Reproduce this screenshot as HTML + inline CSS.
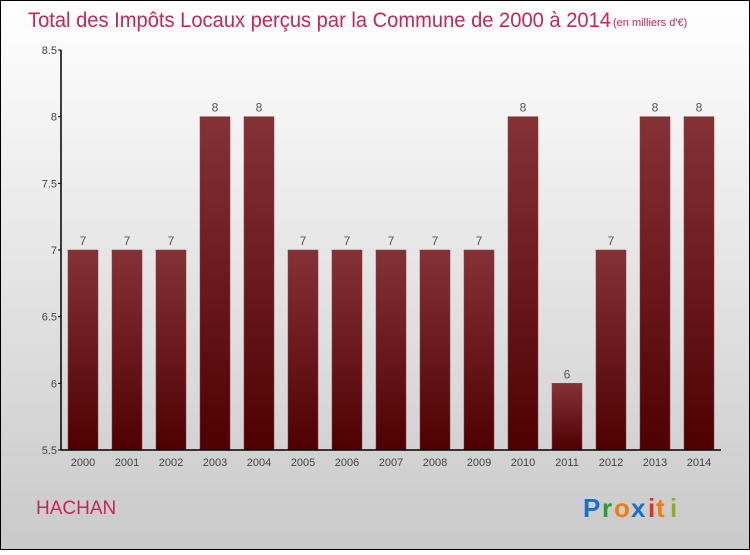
<!DOCTYPE html>
<html><head><meta charset="utf-8"><style>
body{margin:0;}
svg text{font-family:"Liberation Sans",sans-serif;}
</style></head><body>
<svg id="chart" width="750" height="550" xmlns="http://www.w3.org/2000/svg">
<defs>
<linearGradient id="bg" x1="0" y1="0" x2="0" y2="1"><stop offset="0" stop-color="#ffffff"/><stop offset="1" stop-color="#c9c9c9"/></linearGradient>
<linearGradient id="bar" x1="0" y1="0" x2="0" y2="1"><stop offset="0" stop-color="#853237"/><stop offset="1" stop-color="#4e0000"/></linearGradient>
</defs>
<rect x="0.5" y="0.5" width="749" height="549" fill="url(#bg)" stroke="#000"/>
<text x="28" y="27" font-size="21" fill="#c5265a" textLength="583" lengthAdjust="spacingAndGlyphs">Total des Impôts Locaux perçus par la Commune de 2000 à 2014</text>
<text x="613" y="26" font-size="11" fill="#c5265a">(en milliers d'€)</text>
<text x="36" y="514" font-size="19" fill="#c5265a">HACHAN</text>
<g font-size="26" font-weight="bold" font-family="Liberation Sans, sans-serif">
<text x="583" y="517" fill="#1a6fd0">P</text><text x="602" y="517" fill="#2a9a3a">r</text><text x="614" y="517" fill="#f07d10">o</text><text x="631" y="517" fill="#1a6fd0">x</text><text x="648" y="517" fill="#e0301e">i</text><text x="656" y="517" fill="#f07d10">t</text><text x="670" y="517" fill="#8ab020">i</text>
</g>
<g id="plot"></g>
</svg>
<script>
const categories=["2000","2001","2002","2003","2004","2005","2006","2007","2008","2009","2010","2011","2012","2013","2014"];
const values=[7,7,7,8,8,7,7,7,7,7,8,6,7,8,8];
const yTicks=[5.5,6,6.5,7,7.5,8,8.5];
const yMin=5.5,yMax=8.5,plotTop=50,plotBottom=450,plotLeft=61,plotRight=721;
const yScale=v=>plotBottom-(v-yMin)/(yMax-yMin)*(plotBottom-plotTop);
const step=(plotRight-plotLeft)/categories.length;
const xc=i=>plotLeft+step*(i+0.5);
const NS="http://www.w3.org/2000/svg";
const g=document.getElementById('plot');
function el(t,a,txt){const e=document.createElementNS(NS,t);for(const k in a)e.setAttribute(k,a[k]);if(txt!==undefined)e.textContent=txt;g.appendChild(e);return e;}
values.forEach((v,i)=>{
 const r=el('rect',{x:xc(i)-15,y:yScale(v),width:30,height:plotBottom-yScale(v),fill:'url(#bar)',stroke:'#8a3a3e','stroke-width':0.5});
 
 
 const t=el('text',{x:xc(i),y:yScale(v)-5,'font-size':12,fill:'#555','text-anchor':'middle'},String(v));
 
 
 const c=el('text',{x:xc(i),y:466,'font-size':11,fill:'#444','text-anchor':'middle'},categories[i]);
 
 
});
yTicks.forEach(v=>{
 const l=el('line',{x1:plotLeft-3,x2:plotLeft,y1:yScale(v),y2:yScale(v),stroke:'#000'});
 
 
 const t=el('text',{x:plotLeft-4,y:yScale(v)+4,'font-size':11,fill:'#444','text-anchor':'end'},String(v));
 
 
});
const ya=el('line',{x1:plotLeft,x2:plotLeft,y1:plotTop,y2:plotBottom,stroke:'#000','stroke-width':1.5});


const xa=el('line',{x1:plotLeft,x2:plotRight,y1:plotBottom,y2:plotBottom,stroke:'#000','stroke-width':1.5});


</script>
</body></html>
